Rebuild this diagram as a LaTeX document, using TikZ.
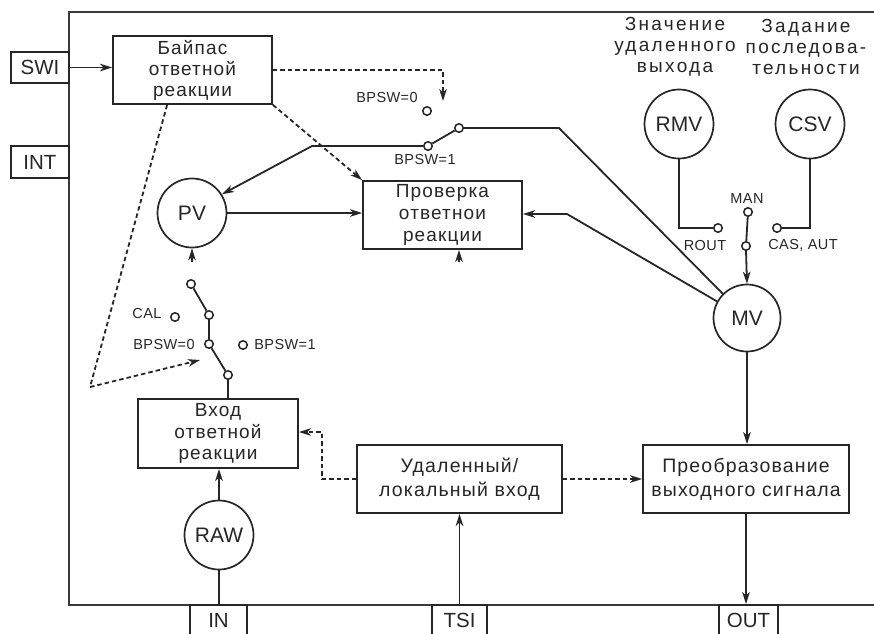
\documentclass[tikz,border=0pt]{standalone}
\usepackage{fontspec}
\setmainfont{Liberation Sans}
\newfontfamily\wide[LetterSpace=6]{Liberation Sans}
\newfontfamily\wider[LetterSpace=12]{Liberation Sans}
\newfontfamily\narrowsp[LetterSpace=3]{Liberation Sans}
\usetikzlibrary{arrows.meta}
\definecolor{ink}{HTML}{262626}
\definecolor{framec}{HTML}{3A3A3A}

\begin{document}
\begin{tikzpicture}[x=1pt,y=-1pt,
  ln/.style={draw=ink,line width=1.8pt},
  arr/.style={-{Stealth[length=12pt,width=7.5pt,inset=3.5pt]}},
  dsh/.style={dash pattern=on 4.5pt off 3pt},
  box/.style={draw=ink,line width=1.8pt,rectangle,inner sep=0pt,align=center,text=ink,
    font=\wide\fontsize{19.5}{24}\selectfont},
  circ/.style={draw=ink,line width=1.7pt,circle,minimum size=69pt,inner sep=0pt,text=ink,
    font=\fontsize{21}{21}\selectfont},
  contact/.style={draw=ink,line width=1.5pt,circle,fill=white,minimum size=8.5pt,inner sep=0pt},
  lbl/.style={text=ink,inner sep=0pt,font=\narrowsp\fontsize{14.5}{14.5}\selectfont},
  toplbl/.style={text=ink,inner sep=0pt,align=center,font=\wider\fontsize{19}{21}\selectfont},
  port/.style={draw=ink,line width=1.8pt,rectangle,inner sep=0pt,text=ink,
    font=\fontsize{20.5}{20.5}\selectfont},
]
\useasboundingbox (0,0) rectangle (874,633);
\clip (0,0) rectangle (874,633);

% block outline
\draw[draw=framec,line width=2.2pt] (880,12) -- (69,12) -- (69,605) -- (880,605);

% terminals
\node[port,minimum width=58pt,minimum height=31pt] (swi) at (40,67.5) {SWI};
\node[port,minimum width=58pt,minimum height=32pt] (int) at (40,162) {INT};
\node[port,minimum width=57pt,minimum height=30pt] (in)  at (218.5,620) {IN};
\node[port,minimum width=55pt,minimum height=30pt] (tsi) at (459.5,620) {TSI};
\node[port,minimum width=59pt,minimum height=30pt] (out) at (748.5,620) {OUT};

% function blocks
\node[box,minimum width=159pt,minimum height=68pt,font=\wide\fontsize{19}{21}\selectfont]
  (bypass) at (192.5,70) {Байпас\\ответной\\реакции};
\node[box,minimum width=159pt,minimum height=68pt,font=\wide\fontsize{19}{22}\selectfont]
  (check) at (442.5,215) {Проверка\\ответнои\\реакции};
\node[box,minimum width=160pt,minimum height=69pt,font=\wide\fontsize{19}{21.5}\selectfont]
  (fbin) at (218,433.5) {Вход\\ответной\\реакции};
\node[box,minimum width=205pt,minimum height=68pt] (remote) at (459.5,479) {Удаленный/\\локальный вход};
\node[box,minimum width=206pt,minimum height=68pt] (conv) at (746,479) {Преобразование\\выходного сигнала};

% parameters
\node[circ] (pv)  at (192,213) {PV};
\node[circ] (raw) at (219,535) {RAW};
\node[circ,minimum size=67pt] (mv) at (747,318) {MV};
\node[circ] (rmv) at (679,124) {RMV};
\node[circ] (csv) at (810,124) {CSV};

\node[toplbl] (rmvtxt) at (675,47) {Значение\\удаленного\\выхода};
\node[toplbl] (csvtxt) at (806,47) {Задание\\последова-\\тельности};

% bypass switch at the top
\node[contact] (t0) at (427,111) {};
\node[contact] (t1) at (428,146) {};
\node[contact] (tc) at (459,128) {};
\node[lbl] (t0txt) at (387,98) {BPSW=0};
\node[lbl] (t1txt) at (425,160) {BPSW=1};
\coordinate (tbend) at (312,146);
\coordinate (tright) at (559,128);
\coordinate (tdrop) at (443,70);
\coordinate (tdropend) at (443,101);

% feedback input switch
\node[contact] (p1) at (191,284) {};
\node[contact] (p2) at (209,315) {};
\node[contact] (pcal) at (175,317) {};
\node[contact] (p3) at (209,344) {};
\node[contact] (pb1) at (243,345) {};
\node[contact] (p4) at (228,375) {};
\node[lbl] (caltxt) at (147,313) {CAL};
\node[lbl] (p0txt) at (164,344) {BPSW=0};
\node[lbl] (pb1txt) at (285,344) {BPSW=1};
\coordinate (dleft) at (90,387);
\coordinate (dtip) at (200,360);

% mode switch
\node[contact] (man) at (748,212) {};
\node[contact] (mc) at (746,246) {};
\node[contact] (rout) at (718,228) {};
\node[contact] (cas) at (777,228) {};
\node[lbl] (mantxt) at (747,199) {MAN};
\node[lbl] (routtxt) at (705,245) {ROUT};
\node[lbl] (castxt) at (803,245) {CAS, AUT};
\coordinate (rmvbend) at (679,228);
\coordinate (csvbend) at (810,228);
\coordinate (mvbend) at (567,214);
\coordinate (lbend) at (322,479);
\coordinate (lbend2) at (322,432);
\coordinate (chkfoot) at (459,262);
\coordinate (pvfoot) at (192,262);

% solid connections
\draw[ln,arr] (swi.east) -- (swi.east -| bypass.west);
\draw[ln] (t1) -- (tc);
\draw[ln,arr] (t1.west) -- (tbend) -- (pv.32);
\draw[ln] (tc.east) -- (tright) -- (mv.135);
\draw[ln,arr] (pv.east) -- (pv.east -| check.west);
\draw[ln,arr] (mv.151) -- (mvbend) -- (mvbend -| check.east);
\draw[ln,arr] (chkfoot) -- (chkfoot |- check.south);
\draw[ln,arr] (pvfoot) -- (pv.south);
\draw[ln] (p1) -- (p2);
\draw[ln] (p2) -- (p3);
\draw[ln] (p3) -- (p4);
\draw[ln] (p4) -- (p4 |- fbin.north);
\draw[ln,arr] (raw.north) -- (raw.north |- fbin.south);
\draw[ln] (raw.south) -- (raw.south |- in.north);
\draw[ln,arr] (tsi.north) -- (tsi.north |- remote.south);
\draw[ln,arr] (mv.south) -- (mv.south |- conv.north);
\draw[ln,arr] (conv.south) -- (conv.south |- out.north);
\draw[ln] (rmv.south) -- (rmvbend) -- (rout.west);
\draw[ln] (csv.south) -- (csvbend) -- (cas.east);
\draw[ln] (man) -- (mc);
\draw[ln,arr] (mc.south) -- (mv.north);

% dashed connections
\draw[ln,dsh,arr] (bypass.east) -- (tdrop) -- (tdropend);
\draw[ln,dsh,arr] (bypass.south east) -- (check.north west);
\draw[ln,dsh,arr] (bypass.south west) ++(55,0) -- (dleft) -- (dtip);
\draw[ln,dsh,arr] (remote.west) -- (lbend) -- (lbend2) -- (lbend2 -| fbin.east);
\draw[ln,dsh,arr] (remote.east) -- (conv.west);
\end{tikzpicture}
\end{document}
